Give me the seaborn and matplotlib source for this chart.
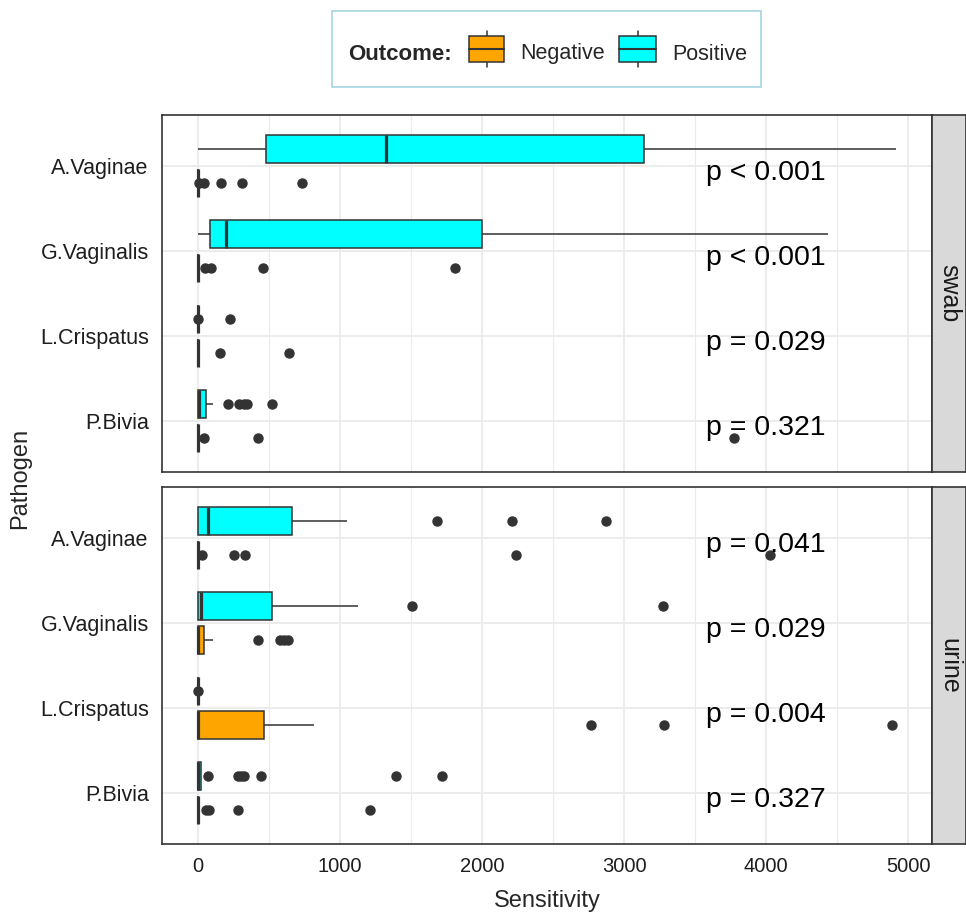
import matplotlib
matplotlib.use("Agg")
import matplotlib.pyplot as plt
import numpy as np
import pandas as pd
import seaborn as sns
from matplotlib.patches import Rectangle
from matplotlib.lines import Line2D

# ---------------- data ----------------
pathogens = ["A.Vaginae", "G.Vaginalis", "L.Crispatus", "P.Bivia"]
sample_types = ["swab", "urine"]
outcome_order = ["Negative", "Positive"]
outcome_colors = {"Negative": "#FFA500", "Positive": "#00FFFF"}
x_ticks = [0, 1000, 2000, 3000, 4000, 5000]

# swab
swab_av_pos = [0, 210, 477, 880, 1324, 2050, 3141, 3900, 4913]
swab_av_neg = [0, 0, 0, 0, 0, 0, 0, 0, 0, 0, 0, 0, 0, 0, 0, 0, 5, 45, 160, 310, 735]
swab_gv_pos = [0, 40, 82, 130, 195, 900, 2000, 3100, 4437]
swab_gv_neg = [0, 0, 0, 0, 0, 0, 0, 0, 0, 0, 0, 0, 0, 50, 90, 455, 1810]
swab_lc_pos = [0, 0, 0, 0, 0, 0, 0, 3, 225]
swab_lc_neg = [0, 0, 0, 0, 0, 0, 0, 155, 637]
swab_pb_pos = [0, 0, 0, 0, 0, 0, 0, 0, 0, 0, 2, 3, 4, 8, 12, 18, 25, 35, 54,
               106, 210, 290, 320, 345, 520]
swab_pb_neg = [0, 0, 0, 0, 0, 0, 0, 0, 0, 0, 42, 425, 3777]

# urine
urine_av_pos = [0, 0, 0, 0, 0, 10, 30, 50, 70, 150, 300, 480, 665, 1052, 1680, 2214, 2876]
urine_av_neg = [0, 0, 0, 0, 0, 0, 0, 0, 0, 0, 0, 0, 0, 0, 0, 0, 30, 250, 330, 2242, 4030]
urine_gv_pos = [0, 0, 0, 0, 5, 12, 24, 120, 300, 521, 1125, 1510, 3275]
urine_gv_neg = [0, 0, 0, 0, 0, 0, 0, 0, 1, 2, 3, 6, 10, 18, 30, 43, 105, 423, 580, 605, 630]
urine_lc_pos = [0, 0, 0, 0, 0, 0, 0, 3]
urine_lc_neg = [0, 0, 0, 0, 0, 0, 0, 0, 0, 80, 200, 340, 465, 815, 2766, 3282, 4890]
urine_pb_pos = [0, 0, 0, 0, 0, 0, 0, 0, 0, 0, 0, 0, 1, 2, 3, 5, 8, 10, 14, 18, 21, 24,
                73, 280, 305, 325, 440, 1397, 1721]
urine_pb_neg = [0, 0, 0, 0, 0, 0, 0, 0, 0, 0, 0, 0, 0, 55, 80, 282, 1211]

p_labels = {
    "swab": ["p < 0.001", "p < 0.001", "p = 0.029", "p = 0.321"],
    "urine": ["p = 0.041", "p = 0.029", "p = 0.004", "p = 0.327"],
}
p_label_x = 4000

groups = {
    ("swab", "A.Vaginae", "Positive"): swab_av_pos,
    ("swab", "A.Vaginae", "Negative"): swab_av_neg,
    ("swab", "G.Vaginalis", "Positive"): swab_gv_pos,
    ("swab", "G.Vaginalis", "Negative"): swab_gv_neg,
    ("swab", "L.Crispatus", "Positive"): swab_lc_pos,
    ("swab", "L.Crispatus", "Negative"): swab_lc_neg,
    ("swab", "P.Bivia", "Positive"): swab_pb_pos,
    ("swab", "P.Bivia", "Negative"): swab_pb_neg,
    ("urine", "A.Vaginae", "Positive"): urine_av_pos,
    ("urine", "A.Vaginae", "Negative"): urine_av_neg,
    ("urine", "G.Vaginalis", "Positive"): urine_gv_pos,
    ("urine", "G.Vaginalis", "Negative"): urine_gv_neg,
    ("urine", "L.Crispatus", "Positive"): urine_lc_pos,
    ("urine", "L.Crispatus", "Negative"): urine_lc_neg,
    ("urine", "P.Bivia", "Positive"): urine_pb_pos,
    ("urine", "P.Bivia", "Negative"): urine_pb_neg,
}
rows = []
for (st, pa, oc), vals in groups.items():
    for v in vals:
        rows.append({"Sample": st, "Pathogen": pa, "Outcome": oc, "Sensitivity": v})
df = pd.DataFrame(rows)

# ---------------- style ----------------
sns.set_style("white")
plt.rcParams["font.family"] = ["Liberation Sans", "DejaVu Sans"]

W, H = 966, 914
def fx(px):
    return px / W
def fy(py):
    return 1 - py / H

fig = plt.figure(figsize=(W / 100, H / 100), dpi=100)
left, right = 162, 932
panels = {"swab": (115, 472), "urine": (487, 844)}

axes = {}
for st in sample_types:
    top, bot = panels[st]
    ax = fig.add_axes([fx(left), fy(bot), (right - left) / W, (bot - top) / H],
                      sharex=axes.get("swab"))
    axes[st] = ax
    sub = df[df["Sample"] == st]
    sns.boxplot(data=sub, x="Sensitivity", y="Pathogen", hue="Outcome",
                order=pathogens, hue_order=["Positive", "Negative"],
                palette=outcome_colors, orient="h", saturation=1,
                width=0.8, gap=0.15, linecolor="#333333", linewidth=1.1,
                fliersize=6.5, showcaps=False, legend=False,
                flierprops=dict(marker="o", markerfacecolor="#333333",
                                markeredgecolor="#333333"),
                medianprops=dict(linewidth=2.3, color="#333333"),
                ax=ax)
    for i, lab in enumerate(p_labels[st]):
        ax.text(p_label_x, i + 0.08, lab, ha="center", va="center",
                fontsize=20.5, color="black", zorder=5)

    ax.set_xlim(-254, 5169)
    ax.set_ylim(3.6, -0.6)
    ax.set_xticks(x_ticks)
    ax.set_xticks([500, 1500, 2500, 3500, 4500], minor=True)
    ax.grid(True, which="major", color="#EBEBEB", linewidth=1.3)
    ax.grid(True, which="minor", axis="x", color="#EBEBEB", linewidth=0.8)
    ax.set_axisbelow(True)
    ax.set_xlabel("")
    ax.set_ylabel("")
    for sp in ax.spines.values():
        sp.set_color("#333333")
        sp.set_linewidth(1.2)
    ax.tick_params(axis="both", which="major", length=5.5, width=1.0,
                   color="#333333", labelcolor="#1E1E1E", labelsize=14.5, pad=4)
    ax.tick_params(axis="y", which="major", labelsize=15.5)
    ax.tick_params(axis="x", which="minor", length=0)

    # facet strip
    sax = fig.add_axes([fx(right), fy(bot), (W - right) / W, (bot - top) / H])
    sax.set_facecolor("#D9D9D9")
    sax.set_xticks([])
    sax.set_yticks([])
    for sp in sax.spines.values():
        sp.set_color("#333333")
        sp.set_linewidth(1.2)
    sax.text(0.5, 0.5, st, rotation=270, ha="center", va="center",
             fontsize=18, color="#1A1A1A", transform=sax.transAxes)

axes["swab"].tick_params(axis="x", which="both", labelbottom=False, length=0)

fig.text(fx(547), fy(907), "Sensitivity", ha="center", va="baseline", fontsize=17)
fig.text(fx(20), fy(478), "Pathogen", ha="center", va="center", rotation=90, fontsize=17)

# ---------------- legend (top) ----------------
fig.patches.append(Rectangle((fx(332), fy(87)), (761 - 332) / W, (87 - 11) / H,
                             transform=fig.transFigure, fill=False,
                             edgecolor="#ADD8E6", linewidth=1.3))
fig.text(fx(348), fy(59.5), "Outcome:", fontsize=16, fontweight="bold",
         va="baseline", ha="left")
for oc, (x0, x1), tx in [("Negative", (469, 504), 520), ("Positive", (619, 656), 672)]:
    xc = (x0 + x1) / 2
    fig.lines.append(Line2D([fx(xc), fx(xc)], [fy(31), fy(67)], transform=fig.transFigure,
                            color="#333333", linewidth=1.1))
    fig.patches.append(Rectangle((fx(x0), fy(62)), (x1 - x0) / W, 26 / H,
                                 transform=fig.transFigure, facecolor=outcome_colors[oc],
                                 edgecolor="#333333", linewidth=1.1, zorder=3))
    fig.lines.append(Line2D([fx(x0), fx(x1)], [fy(49), fy(49)], transform=fig.transFigure,
                            color="#333333", linewidth=1.5, zorder=4))
    fig.text(fx(tx), fy(59.5), oc, fontsize=15.5, va="baseline", ha="left")

fig.savefig("out.png", dpi=100)
